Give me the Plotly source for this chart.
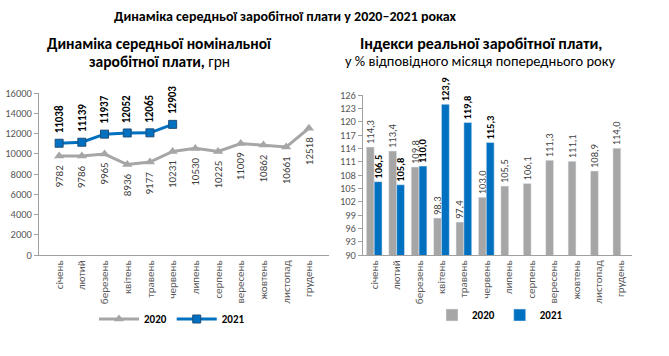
import plotly.graph_objects as go

months = ["січень", "лютий", "березень", "квітень", "травень", "червень",
          "липень", "серпень", "вересень", "жовтень", "листопад", "грудень"]
wage_2020 = [9782, 9786, 9965, 8936, 9177, 10231, 10530, 10225, 11009, 10862, 10661, 12518]
wage_2021 = [11038, 11139, 11937, 12052, 12065, 12903]
real_2020 = [114.3, 113.4, 109.8, 98.3, 97.4, 103.0, 105.5, 106.1, 111.3, 111.1, 108.9, 114.0]
real_2021 = [106.5, 105.8, 110.0, 123.9, 119.8, 115.3]
nominal_ticks = [0, 2000, 4000, 6000, 8000, 10000, 12000, 14000, 16000]
real_ticks = [90, 93, 96, 99, 102, 105, 108, 111, 114, 117, 120, 123, 126]

GRAY = "#A6A6A6"
BLUE = "#0070C0"
FONT = "Carlito, 'Liberation Sans Narrow', Roboto, Arial, sans-serif"
TICKCOL = "#595959"
W, H = 669, 356

def fmt(v):
    return f"{v:.1f}".replace(".", ",")

fig = go.Figure()

# Left chart: nominal wage lines
fig.add_trace(go.Scatter(
    x=months, y=wage_2020, mode="lines+markers", name="2020",
    line=dict(color=GRAY, width=3), marker=dict(symbol="triangle-up", size=9, color=GRAY),
    xaxis="x", yaxis="y", legend="legend"))
fig.add_trace(go.Scatter(
    x=months[:len(wage_2021)], y=wage_2021, mode="lines+markers", name="2021",
    line=dict(color=BLUE, width=3),
    marker=dict(symbol="square", size=8, color=BLUE, line=dict(color="#1F4E79", width=1)),
    xaxis="x", yaxis="y", legend="legend"))

# Right chart: real wage index bars
fig.add_trace(go.Bar(
    x=months, y=real_2020, name="2020", marker_color=GRAY,
    text=[fmt(v) for v in real_2020], textposition="outside", textangle=-90,
    textfont=dict(color="#404040", size=10.5, family=FONT), constraintext="none",
    cliponaxis=False, xaxis="x2", yaxis="y2", legend="legend2"))
fig.add_trace(go.Bar(
    x=months[:len(real_2021)], y=real_2021, name="2021", marker_color=BLUE,
    text=[f"<b>{fmt(v)}</b>" for v in real_2021], textposition="outside", textangle=-90,
    textfont=dict(color="#000000", size=10.5, family=FONT), constraintext="none",
    cliponaxis=False, xaxis="x2", yaxis="y2", legend="legend2"))

annotations = []
for m, v in zip(months, wage_2021):
    annotations.append(dict(x=m, y=v, xref="x", yref="y", text=f"<b>{v}</b>",
                            textangle=-90, showarrow=False, yanchor="bottom", yshift=8,
                            font=dict(size=11, color="#000000", family=FONT)))
for m, v in zip(months, wage_2020):
    annotations.append(dict(x=m, y=v, xref="x", yref="y", text=str(v),
                            textangle=-90, showarrow=False, yanchor="top", yshift=-7,
                            font=dict(size=11, color="#404040", family=FONT)))

def px_x(p):
    return p / W

def px_y(p):
    return 1 - p / H

title_style = dict(xref="paper", yref="paper", showarrow=False,
                   xanchor="center", yanchor="middle")
annotations += [
    dict(x=px_x(285), y=px_y(17),
         text="<b>Динаміка середньої заробітної плати у 2020–2021 роках</b>",
         font=dict(size=14, color="#000", family=FONT), **title_style),
    dict(x=px_x(159), y=px_y(43),
         text="<b>Динаміка середньої номінальної</b>",
         font=dict(size=15.5, color="#000", family=FONT), **title_style),
    dict(x=px_x(159), y=px_y(61),
         text="<b>заробітної плати,</b> грн",
         font=dict(size=15.5, color="#000", family=FONT), **title_style),
    dict(x=px_x(481), y=px_y(43),
         text="<b>Індекси реальної заробітної плати,</b>",
         font=dict(size=16, color="#000", family=FONT), **title_style),
    dict(x=px_x(480), y=px_y(61),
         text="у % відповідного місяця попереднього року",
         font=dict(size=14.5, color="#000", family=FONT), **title_style),
]

axis_common = dict(showgrid=False, zeroline=False, linecolor="#A0A0A0", linewidth=1,
                   automargin=False)
xtick_font = dict(size=11, color=TICKCOL, family=FONT)
ytick_font = dict(size=10.5, color=TICKCOL, family=FONT)

fig.update_layout(
    width=W, height=H, margin=dict(l=0, r=0, t=0, b=0, autoexpand=False),
    paper_bgcolor="white", plot_bgcolor="white",
    font=dict(family=FONT),
    barmode="group", bargap=0.3, bargroupgap=0,
    xaxis=dict(domain=[px_x(39), px_x(329)], type="category", tickangle=-90,
               showline=True, ticks="", anchor="y", tickfont=xtick_font, **axis_common),
    yaxis=dict(domain=[px_y(255), px_y(93)], range=[0, 16000], tickvals=nominal_ticks,
               tickformat="d", showline=True, ticks="outside", ticklen=4,
               tickcolor="#A0A0A0", anchor="x", tickfont=ytick_font, **axis_common),
    xaxis2=dict(domain=[px_x(363), px_x(632)], type="category", tickangle=-90,
                showline=True, ticks="", anchor="y2", tickfont=xtick_font, **axis_common),
    yaxis2=dict(domain=[px_y(255), px_y(95)], range=[90, 126], tickvals=real_ticks,
                showline=True, ticks="outside", ticklen=4, tickcolor="#A0A0A0",
                anchor="x2", tickfont=ytick_font, **axis_common),
    legend=dict(orientation="h", x=px_x(172), y=px_y(319), xanchor="center", yanchor="middle",
                font=dict(size=11, color="#000", family=FONT), itemwidth=40,
                bgcolor="rgba(0,0,0,0)"),
    legend2=dict(orientation="h", x=px_x(500), y=px_y(315), xanchor="center", yanchor="middle",
                 font=dict(size=11, color="#000", family=FONT), itemwidth=30,
                 bgcolor="rgba(0,0,0,0)"),
    annotations=annotations,
)

for tr in fig.data:
    tr.name = f"<b>{tr.name}</b>"

fig.write_html("out.html", config={"displayModeBar": False},
               post_script="document.body.style.margin='0';")
